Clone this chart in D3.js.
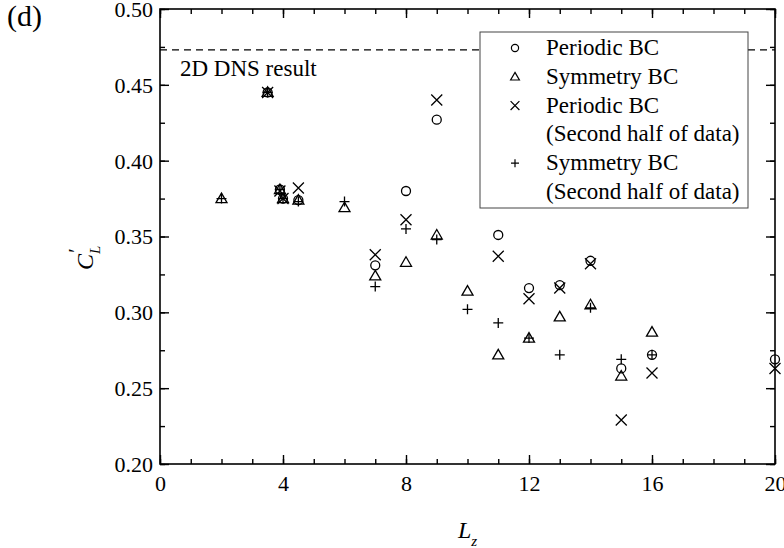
<!DOCTYPE html>
<html><head><meta charset="utf-8">
<script src="https://cdn.jsdelivr.net/npm/d3@7"></script>
<style>
body{margin:0;background:#fff}
svg{display:block}
text{font-family:"Liberation Serif","Times New Roman",serif;fill:#000}
</style>
</head><body>
<svg id="c" width="784" height="548"></svg>
<script>
// ---- data ----
const periodicLz  = [3.5, 3.9, 4, 4.5, 7, 8, 9, 11, 12, 13, 14, 15, 16, 20];
const periodicCL  = [0.445, 0.381, 0.375, 0.374, 0.331, 0.380, 0.427, 0.351, 0.316, 0.318, 0.334, 0.263, 0.272, 0.269];
const symmetryLz  = [2, 3.5, 3.9, 4, 4.5, 6, 7, 8, 9, 10, 11, 12, 13, 14, 15, 16];
const symmetryCL  = [0.375, 0.445, 0.381, 0.375, 0.374, 0.369, 0.324, 0.333, 0.351, 0.314, 0.272, 0.283, 0.297, 0.305, 0.258, 0.287];
const periodic2Lz = [3.5, 3.9, 4, 4.5, 7, 8, 9, 11, 12, 13, 14, 15, 16, 20];
const periodic2CL = [0.445, 0.380, 0.375, 0.382, 0.338, 0.361, 0.440, 0.337, 0.309, 0.316, 0.332, 0.229, 0.260, 0.263];
const symmetry2Lz = [2, 3.5, 3.9, 4, 4.5, 6, 7, 8, 9, 10, 11, 12, 13, 14, 15, 16];
const symmetry2CL = [0.375, 0.445, 0.381, 0.375, 0.373, 0.373, 0.317, 0.355, 0.348, 0.302, 0.293, 0.283, 0.272, 0.303, 0.269, 0.272];
const dnsResult = 0.473;
const xTicks = [0, 4, 8, 12, 16, 20];
const yTicks = [0.20, 0.25, 0.30, 0.35, 0.40, 0.45, 0.50];
const legendLabels = [["Periodic BC"], ["Symmetry BC"], ["Periodic BC", "(Second half of data)"], ["Symmetry BC", "(Second half of data)"]];

// ---- layout ----
const L = 160, R = 775, T = 9, B = 464;
const svg = d3.select("#c");
const x = d3.scaleLinear().domain([0, 20]).range([L, R]);
const y = d3.scaleLinear().domain([0.20, 0.50]).range([B, T]);
const FS = 22, LFS = 23;

const xMinor = d3.range(0, 21, 1);
const yMinor = d3.range(0, 13).map(i => +(0.2 + i * 0.025).toFixed(3));

function styleAxis(g) {
  g.select(".domain").remove();
  g.selectAll("line").attr("stroke", "#000").attr("stroke-width", 1.4);
  g.selectAll("text").style("font-family", '"Liberation Serif","Times New Roman",serif').style("font-size", FS + "px").attr("fill", "#000");
}
// bottom
svg.append("g").attr("transform", `translate(0,${B})`)
  .call(d3.axisBottom(x).tickValues(xMinor).tickSize(-5).tickFormat(""))
  .call(styleAxis);
svg.append("g").attr("transform", `translate(0,${B})`)
  .call(d3.axisBottom(x).tickValues(xTicks).tickSize(-9).tickFormat(d3.format("d")))
  .call(styleAxis)
  .call(g => g.selectAll("text").attr("dy", "0.71em").attr("y", 11));
// top
svg.append("g").attr("transform", `translate(0,${T})`)
  .call(d3.axisTop(x).tickValues(xMinor).tickSize(-5).tickFormat("")).call(styleAxis);
svg.append("g").attr("transform", `translate(0,${T})`)
  .call(d3.axisTop(x).tickValues(xTicks).tickSize(-9).tickFormat("")).call(styleAxis);
// left
svg.append("g").attr("transform", `translate(${L},0)`)
  .call(d3.axisLeft(y).tickValues(yMinor).tickSize(-5).tickFormat("")).call(styleAxis);
svg.append("g").attr("transform", `translate(${L},0)`)
  .call(d3.axisLeft(y).tickValues(yTicks).tickSize(-9).tickFormat(d3.format(".2f")))
  .call(styleAxis)
  .call(g => g.selectAll("text").attr("x", -7).attr("dy", "0.34em"));
// right
svg.append("g").attr("transform", `translate(${R},0)`)
  .call(d3.axisRight(y).tickValues(yMinor).tickSize(-5).tickFormat("")).call(styleAxis);
svg.append("g").attr("transform", `translate(${R},0)`)
  .call(d3.axisRight(y).tickValues(yTicks).tickSize(-9).tickFormat("")).call(styleAxis);

// frame
svg.append("rect").attr("x", L).attr("y", T).attr("width", R - L).attr("height", B - T)
  .attr("fill", "none").attr("stroke", "#000").attr("stroke-width", 1.6);

// DNS dashed line
svg.append("line").attr("x1", L).attr("x2", R).attr("y1", y(dnsResult)).attr("y2", y(dnsResult))
  .attr("stroke", "#000").attr("stroke-width", 1.2).attr("stroke-dasharray", "7,5");
svg.append("text").attr("x", x(0.65)).attr("y", y(dnsResult) + 26)
  .style("font-size", LFS + "px").text("2D DNS result");

// ---- marker shapes ----
const shapes = {
  circle: s => { const r = 4.5 * s; return `M${r},0A${r},${r} 0 1,1 ${-r},0A${r},${r} 0 1,1 ${r},0Z`; },
  triangle: s => `M0,${-5.5 * s}L${5.5 * s},${4 * s}L${-5.5 * s},${4 * s}Z`,
  cross: s => { const a = 5.5 * s; return `M${-a},${-a}L${a},${a}M${-a},${a}L${a},${-a}`; },
  plus: s => { const a = 5 * s; return `M${-a},0L${a},0M0,${-a}L0,${a}`; }
};
const series = [
  { lz: periodicLz, cl: periodicCL, shape: "circle" },
  { lz: symmetryLz, cl: symmetryCL, shape: "triangle" },
  { lz: periodic2Lz, cl: periodic2CL, shape: "cross" },
  { lz: symmetry2Lz, cl: symmetry2CL, shape: "plus" }
];
series.forEach(sr => {
  svg.append("g").selectAll("path").data(sr.lz.map((v, i) => [v, sr.cl[i]])).join("path")
    .attr("transform", d => `translate(${x(d[0])},${y(d[1])})`)
    .attr("d", shapes[sr.shape](1))
    .attr("fill", "none").attr("stroke", "#000").attr("stroke-width", 1.3);
});

// ---- legend ----
const lg = svg.append("g");
lg.append("rect").attr("x", 480).attr("y", 32).attr("width", 268).attr("height", 176)
  .attr("fill", "#fff").attr("stroke", "#444").attr("stroke-width", 1);
let row = 0;
const rowH = 28.8, base0 = 55;
series.forEach((sr, i) => {
  const cy = base0 + row * rowH - 7;
  lg.append("path").attr("transform", `translate(515,${cy})`).attr("d", shapes[sr.shape](0.8))
    .attr("fill", "none").attr("stroke", "#000").attr("stroke-width", 1.2);
  legendLabels[i].forEach(t => {
    lg.append("text").attr("x", 546).attr("y", base0 + row * rowH).style("font-size", LFS + "px").text(t);
    row++;
  });
});

// ---- titles ----
svg.append("text").attr("x", 7).attr("y", 26).style("font-size", "30px").text("(d)");
const xl = svg.append("text").attr("x", (L + R) / 2).attr("y", 538).attr("text-anchor", "middle").style("font-size", "24px");
xl.append("tspan").style("font-style", "italic").text("L");
xl.append("tspan").style("font-style", "italic").style("font-size", "15px").attr("dy", 8).text("z");
const yl = svg.append("text").attr("transform", "translate(93,270) rotate(-90)").style("font-size", "24px");
yl.append("tspan").style("font-style", "italic").text("C");
yl.append("tspan").style("font-style", "italic").style("font-size", "15px").attr("dy", 7).text("L");
yl.append("tspan").style("font-size", "20px").attr("dx", -7).attr("dy", -17).text("′");
</script>
</body></html>
